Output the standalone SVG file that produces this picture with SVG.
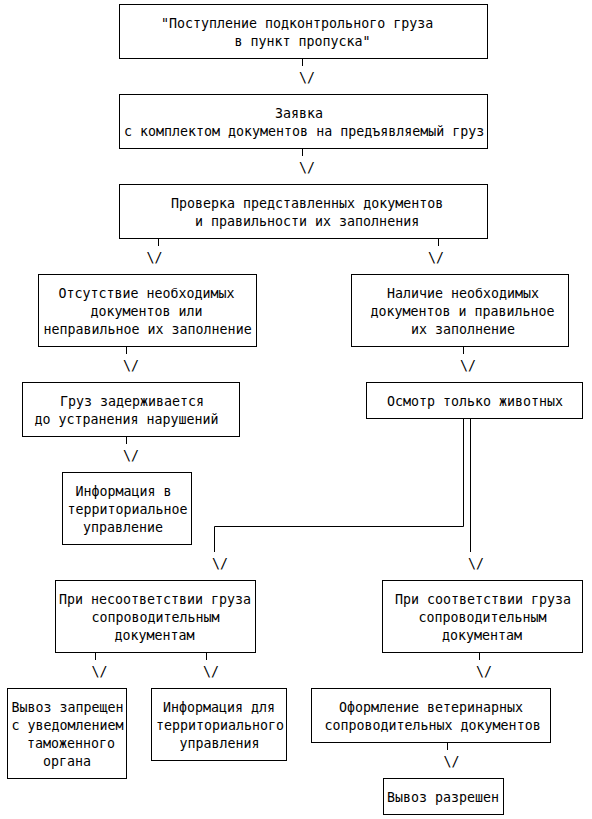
<svg xmlns="http://www.w3.org/2000/svg" width="592" height="819" viewBox="0 0 592 819">
<style>
.box{fill:#fff;stroke:#000;stroke-width:1}
.t{font-family:"DejaVu Sans Mono","Liberation Mono",monospace;font-size:13.3px;fill:#000}
.c{fill:none;stroke:#000;stroke-width:1}
</style>
<rect width="592" height="819" fill="#fff"/>
<g id="connectors">
<path class="c" d="M302.5 59V66M302.5 149V156M158.5 239V246M438.5 239V246M126.5 347V354M463.5 347V354M126.5 437V444M463.5 419V526.5H214.5V552M470.5 419V552M95.5 653V660M206.5 653V660M479.5 653V660M447.5 743V750"/>
<text class="t" x="299" y="82">\/</text>
<text class="t" x="299" y="172">\/</text>
<text class="t" x="146.5" y="262">\/</text>
<text class="t" x="428" y="262">\/</text>
<text class="t" x="123" y="370">\/</text>
<text class="t" x="460" y="370">\/</text>
<text class="t" x="123" y="460">\/</text>
<text class="t" x="212" y="568">\/</text>
<text class="t" x="468" y="568">\/</text>
<text class="t" x="91.5" y="676">\/</text>
<text class="t" x="203" y="676">\/</text>
<text class="t" x="476" y="676">\/</text>
<text class="t" x="443.5" y="766">\/</text>
</g>
<g id="n1"><rect class="box" x="119.5" y="4.5" width="368" height="54"/>
<text class="t" x="161" y="27.5">"Поступление подконтрольного груза</text>
<text class="t" x="234.5" y="45.5">в пункт пропуска"</text></g>
<g id="n2"><rect class="box" x="119.5" y="94.5" width="368" height="54"/>
<text class="t" x="275" y="117.5">Заявка</text>
<text class="t" x="124" y="135.5">с комплектом документов на предъявляемый груз</text></g>
<g id="n3"><rect class="box" x="119.5" y="184.5" width="368" height="54"/>
<text class="t" x="171" y="207.5">Проверка представленных документов</text>
<text class="t" x="195" y="225.5">и правильности их заполнения</text></g>
<g id="n4"><rect class="box" x="38.5" y="274.5" width="218" height="72"/>
<text class="t" x="58.5" y="297.5">Отсутствие необходимых</text>
<text class="t" x="90.5" y="315.5">документов или</text>
<text class="t" x="43.5" y="333.5">неправильное их заполнение</text></g>
<g id="n5"><rect class="box" x="351.5" y="274.5" width="217" height="72"/>
<text class="t" x="387" y="297.5">Наличие необходимых</text>
<text class="t" x="370.5" y="315.5">документов и правильное</text>
<text class="t" x="411" y="333.5">их заполнение</text></g>
<g id="n6"><rect class="box" x="22.5" y="382.5" width="217" height="54"/>
<text class="t" x="60" y="405.5">Груз задерживается</text>
<text class="t" x="34.5" y="423.5">до устранения нарушений</text></g>
<g id="n7"><rect class="box" x="366.5" y="382.5" width="216" height="36"/>
<text class="t" x="387" y="405.5">Осмотр только животных</text></g>
<g id="n8"><rect class="box" x="62.5" y="472.5" width="129" height="72"/>
<text class="t" x="75.5" y="495.5">Информация в</text>
<text class="t" x="67.5" y="513.5">территориальное</text>
<text class="t" x="83" y="531.5">управление</text></g>
<g id="n9"><rect class="box" x="55.5" y="580.5" width="200" height="72"/>
<text class="t" x="59" y="603.5">При несоответствии груза</text>
<text class="t" x="91.5" y="621.5">сопроводительным</text>
<text class="t" x="114.5" y="639.5">документам</text></g>
<g id="n10"><rect class="box" x="382.5" y="580.5" width="200" height="72"/>
<text class="t" x="395" y="603.5">При соответствии груза</text>
<text class="t" x="418.5" y="621.5">сопроводительным</text>
<text class="t" x="442" y="639.5">документам</text></g>
<g id="n11"><rect class="box" x="7.5" y="688.5" width="119" height="90"/>
<text class="t" x="11.5" y="711.5">Вывоз запрещен</text>
<text class="t" x="11.5" y="729.5">с уведомлением</text>
<text class="t" x="27" y="747.5">таможенного</text>
<text class="t" x="43" y="765.5">органа</text></g>
<g id="n12"><rect class="box" x="151.5" y="688.5" width="135" height="72"/>
<text class="t" x="163" y="711.5">Информация для</text>
<text class="t" x="156" y="729.5">территориального</text>
<text class="t" x="179.5" y="747.5">управления</text></g>
<g id="n13"><rect class="box" x="311.5" y="688.5" width="239" height="54"/>
<text class="t" x="339" y="711.5">Оформление ветеринарных</text>
<text class="t" x="324.5" y="729.5">сопроводительных документов</text></g>
<g id="n14"><rect class="box" x="383.5" y="778.5" width="120" height="36"/>
<text class="t" x="387" y="801.5">Вывоз разрешен</text></g>
</svg>
